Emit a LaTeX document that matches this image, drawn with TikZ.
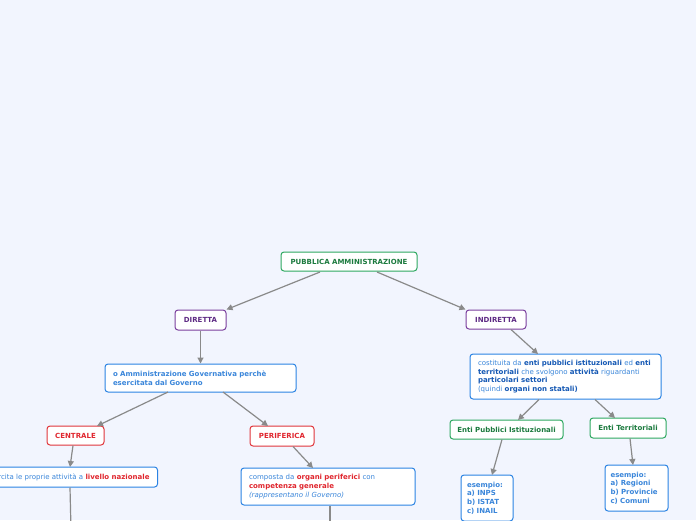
\documentclass[tikz,border=0pt]{standalone}
\usepackage{fontspec}
\setmainfont{DejaVu Sans}
\usetikzlibrary{arrows.meta}
\definecolor{bg}{HTML}{F2F5FE}
\definecolor{gtxt}{HTML}{1B7A3E}
\definecolor{gbrd}{HTML}{2EA860}
\definecolor{ptxt}{HTML}{5E2A84}
\definecolor{pbrd}{HTML}{7A3E9D}
\definecolor{btxt}{HTML}{3A86DA}
\definecolor{bdark}{HTML}{1458B4}
\definecolor{bbrd}{HTML}{2B83E3}
\definecolor{rtxt}{HTML}{E0262E}
\definecolor{rbrd}{HTML}{E0353B}
\definecolor{conn}{HTML}{8A8A8A}
\newcommand{\rb}[1]{\textbf{\textcolor{rtxt}{#1}}}
\newcommand{\db}[1]{\textbf{\textcolor{bdark}{#1}}}
\tikzset{
  box/.style={draw, fill=white, rounded corners=3pt, line width=1pt, inner sep=0pt,
     font=\fontsize{7}{8.7}\selectfont},
  topic/.style={box, font=\fontsize{7}{8.7}\selectfont\bfseries},
  gbox/.style={topic, draw=gbrd, text=gtxt},
  pbox/.style={topic, draw=pbrd, text=ptxt},
  rbox/.style={topic, draw=rbrd, text=rtxt},
  bbox/.style={box, draw=bbrd, text=btxt},
  conn/.style={draw=conn, line width=1.2pt, -{Triangle[length=6pt,width=6pt]}},
  plain/.style={draw=conn, line width=1.2pt}
}
\begin{document}
\begin{tikzpicture}[x=1pt,y=-1pt]
\fill[bg] (0,0) rectangle (696,520);
\useasboundingbox (0,0) rectangle (696,520);
\clip (0,0) rectangle (696,520);

\node[gbox, minimum width=136pt, minimum height=19pt] (pa) at (349,261.5) {PUBBLICA AMMINISTRAZIONE};
\node[pbox, minimum width=51pt, minimum height=20pt] (dir) at (200.5,320) {DIRETTA};
\node[pbox, minimum width=60pt, minimum height=19pt] (ind) at (496,319.5) {INDIRETTA};

\node[bbox, minimum width=191pt, minimum height=28pt, text width=175pt, align=left, font=\fontsize{7}{8.7}\selectfont\bfseries] (amm) at (200.5,378)
  {o Amministrazione Governativa perchè\\esercitata dal Governo};

\node[rbox, minimum width=57pt, minimum height=19pt] (cen) at (75.5,435.5) {CENTRALE};
\node[rbox, minimum width=64pt, minimum height=20pt] (per) at (282,436) {PERIFERICA};

\node[bbox, anchor=east, minimum height=20pt, inner xsep=8pt] (ese) at (158,477)
  {esercita le proprie attività a \rb{livello nazionale}};
\coordinate (eseend) at (71,530);

\node[bbox, minimum width=174pt, minimum height=37pt, text width=158pt, align=left] (com) at (328,486.5)
  {composta da \rb{organi periferici} con\\\rb{competenza generale}\\\textit{(rappresentano il Governo)}};
\coordinate (comend) at (330,530);

\node[bbox, minimum width=191pt, minimum height=45pt, text width=175pt, align=left] (cos) at (565.5,376.5)
  {costituita da \db{enti pubblici istituzionali} ed \db{enti territoriali} che svolgono \db{attività} riguardanti \db{particolari settori}\\(quindi \db{organi non statali)}};

\node[gbox, minimum width=113pt, minimum height=19pt] (epi) at (506.5,429.5) {Enti Pubblici Istituzionali};
\node[gbox, minimum width=76pt, minimum height=20pt] (et) at (628,428) {Enti Territoriali};

\node[bbox, minimum width=52pt, minimum height=46pt, text width=40pt, align=left, font=\fontsize{7}{8.7}\selectfont\bfseries] (ex1) at (487,498)
  {esempio:\\a) INPS\\b) ISTAT\\c) INAIL};
\node[bbox, minimum width=63pt, minimum height=46pt, text width=52pt, align=left, font=\fontsize{7}{8.7}\selectfont\bfseries] (ex2) at (636.5,488)
  {esempio:\\a) Regioni\\b) Provincie\\c) Comuni};

\draw[conn] (320,272) -- (dir.north east);
\draw[conn] (377,272) -- (ind.north west);
\draw[conn] (dir.south) -- (amm.north);
\draw[conn] (168,392) -- (97,426);
\draw[conn] (223,392) -- (268,426);
\draw[conn] (73,445.5) -- (70,467);
\draw[plain] (70,487.5) -- (eseend);
\draw[conn] (293,446.5) -- (313,468);
\draw[plain] (330,505.5) -- (comend);
\draw[conn] (511,329.5) -- (538,354);
\draw[conn] (539,399.5) -- (518,420);
\draw[conn] (595,399.5) -- (615,418);
\draw[conn] (502,439.5) -- (492,475);
\draw[conn] (630,438.5) -- (633,465);
\end{tikzpicture}
\end{document}
